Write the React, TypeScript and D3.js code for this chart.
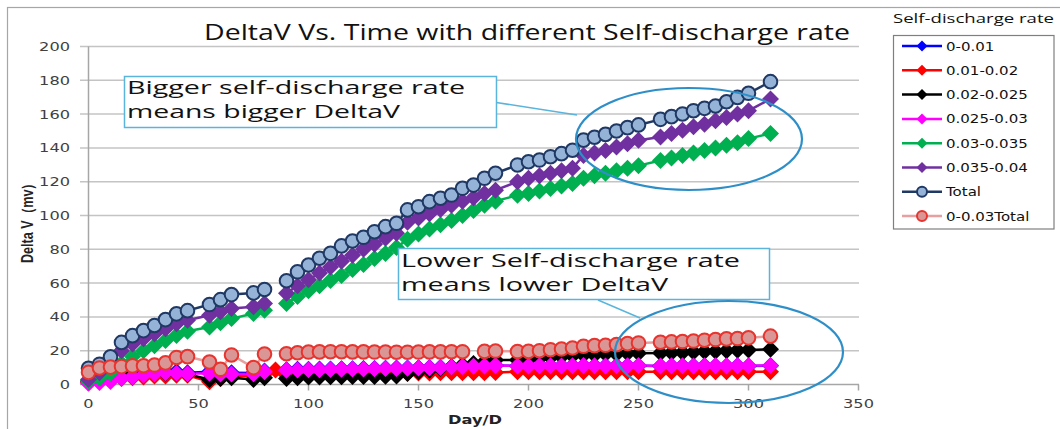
import React from 'react';
import * as d3 from 'd3';

// ---- Data ----
const days = [0, 5, 10, 15, 20, 25, 30, 35, 40, 45, 55, 60, 65, 75, 80, 85, 90, 95, 100, 105, 110, 115, 120, 125, 130, 135, 140, 145, 150, 155, 160, 165, 170, 175, 180, 185, 195, 200, 205, 210, 215, 220, 225, 230, 235, 240, 245, 250, 260, 265, 270, 275, 280, 285, 290, 295, 300, 310];

const rate0_001 = [1.5, 2, 2.5, 4.5, 5.5, 6.2, 7.2, 7.8, 7.5, 7, 7.5, 7.2, 7, 6.8, 8, null, 8.8, 9, 9, 9.1, 9.2, 9.3, 9.3, 9.4, 9.5, 9.6, 9.7, 9.8, 9.9, 10, 10.2, 10.4, 10.6, 10.8, 11, 11.2, 11, 11, 11, 11.1, 11, 11.1, 11.1, 11.1, 11, 11.1, 11.1, 11.1, 11, 11, 11.1, 11, 11.1, 11, 11, 11.1, 11, 11.1];
const rate001_002 = [1, 2, 3, 3.5, 4, 4.5, 5, 5, 5.5, 5.5, 1.7, 3.5, 5, 5, 6, 8.6, 5.5, 5.5, 5.8, 6, 6, 6.1, 6.2, 6.3, 6.4, 6.5, 6.6, 6.7, 6.8, 6.8, 6.9, 6.9, 7, 7, 7, 7.1, 7.6, 7.5, 7.6, 7.6, 7.5, 7.6, 7.6, 7.6, 7.5, 7.6, 7.6, 7.6, 7.5, 7.6, 7.6, 7.6, 7.5, 7.6, 7.6, 7.6, 7.5, 7.6];
const rate002_0025 = [2, 4, 5.5, 6, 6.5, 6.5, 6.8, 6.8, 6.5, 6, 3, 3.5, 4, 3, 4, null, 3.5, 4, 4.5, 4.5, 4.6, 4.6, 4.7, 4.7, 4.8, 4.9, 5, 6.5, 7.6, 8.5, 9.5, 10.5, 11.5, 12.5, 13.5, 14.5, 14.5, 15, 15.5, 16, 16.5, 17, 17.5, 17.5, 18, 18, 18.5, 18.5, 18.6, 18.8, 19, 19.2, 19.5, 19.7, 20, 20.2, 20.4, 20.8];
const rate0025_003 = [0.7, 1.2, 1.8, 3.7, 4.6, 5.6, 6.4, 7, 6.6, 6.4, 6.6, 6.2, 6.2, 6.4, 7.6, null, 8.4, 8.6, 8.7, 8.8, 8.9, 9, 9.1, 9.2, 9.3, 9.4, 9.5, 9.6, 9.7, 9.9, 10.1, 10.3, 10.6, 10.8, 11, 11.2, 11, 11, 11.1, 11.1, 11, 11.1, 11.2, 11.1, 11, 11.1, 11.1, 11.2, 11, 11.1, 11.1, 11, 11.1, 11.1, 11, 11.1, 11.1, 11.2];
const rate003_0035 = [2, 4, 7, 12.5, 16.5, 20, 23, 26, 29, 31.5, 34, 36.5, 39, 42, 44, null, 48, 52, 55.5, 58.5, 61.5, 64.5, 68, 71, 74.5, 77.5, 81, 86, 89, 92, 94.5, 97, 100, 103, 106, 108.5, 112, 113, 114.5, 116, 117.5, 119, 122, 123.5, 125, 126.5, 128, 129.5, 132.5, 134, 135.5, 137, 138.5, 140, 141.5, 143, 145.5, 148.5];
const rate0035_004 = [3, 7, 13, 20, 24, 27, 30, 33, 36, 38, 41, 43, 45, 46, 48, null, 54, 58.5, 62, 66, 69.5, 73, 76.5, 80, 83, 86.5, 89.5, 96, 98.5, 101, 103.5, 106, 108.5, 110.5, 113, 115, 120, 122, 123.5, 125, 126.5, 128, 135.5, 137, 138.5, 140.5, 142.5, 144.5, 146.5, 148.5, 150.5, 152.5, 154, 156, 158, 160, 162, 169];
const totalAll = [9.6, 12, 16.4, 24.9, 28.9, 31.9, 34.9, 38.4, 41.8, 43.7, 47.3, 50.2, 53.2, 54.2, 56.2, null, 61.4, 66.7, 70.7, 74.7, 77.6, 82, 84.9, 87.1, 90.4, 93.4, 95.4, 103.3, 105.2, 108.2, 110.2, 112.1, 116.1, 118, 122, 125, 129.9, 131.8, 132.8, 134.8, 136.6, 138.6, 144.6, 146.3, 148, 150, 152, 153.6, 156.9, 158.5, 160.1, 162, 163.4, 164.8, 167.3, 169.9, 172.3, 179.2];
const total0_003 = [7.2, 9.8, 10.3, 10.6, 11, 11.1, 11.5, 12.8, 16, 16.5, 13.3, 9, 17.5, 10, 18, null, 18.2, 18.8, 19.2, 19.3, 19.4, 19.4, 19.3, 19.3, 19.2, 19.2, 19.1, 19.1, 19.2, 19.3, 19.3, 19.4, 19.4, null, 19.6, 19.8, 19.5, 19.6, 20, 20.6, 21, 21.6, 22.6, 23, 23.2, 23.6, 24.2, 24.6, 25, 25.2, 25.4, 25.7, 26.2, 26.6, 27, 27.2, 27.6, 28.6];

const seriesNames = ['0-0.01', '0.01-0.02', '0.02-0.025', '0.025-0.03', '0.03-0.035', '0.035-0.04', 'Total', '0-0.03Total'];
const xTicks = [0, 50, 100, 150, 200, 250, 300, 350];
const yTicks = [0, 20, 40, 60, 80, 100, 120, 140, 160, 180, 200];

const title = 'DeltaV Vs. Time with different Self-discharge rate';
const xTitle = 'Day/D';
const yTitle = 'Delta V（mv）';
const legendTitle = 'Self-discharge rate';
const noteUpper = ['Bigger self-discharge rate', 'means bigger DeltaV'];
const noteLower = ['Lower Self-discharge rate', 'means lower DeltaV'];

type Series = {
  name: string;
  values: (number | null)[];
  marker: 'diamond' | 'circle';
  fill: string;
  stroke: string;
  line: string;
};

const series: Series[] = [
  { name: seriesNames[0], values: rate0_001, marker: 'diamond', fill: '#0000FF', stroke: 'none', line: '#0000FF' },
  { name: seriesNames[1], values: rate001_002, marker: 'diamond', fill: '#FF0000', stroke: 'none', line: '#FF0000' },
  { name: seriesNames[2], values: rate002_0025, marker: 'diamond', fill: '#000000', stroke: 'none', line: '#000000' },
  { name: seriesNames[3], values: rate0025_003, marker: 'diamond', fill: '#FF00FF', stroke: 'none', line: '#FF00FF' },
  { name: seriesNames[4], values: rate003_0035, marker: 'diamond', fill: '#00B050', stroke: 'none', line: '#00B050' },
  { name: seriesNames[5], values: rate0035_004, marker: 'diamond', fill: '#7030A0', stroke: 'none', line: '#7030A0' },
  { name: seriesNames[6], values: totalAll, marker: 'circle', fill: '#95B3D7', stroke: '#1F3864', line: '#1F3864' },
  { name: seriesNames[7], values: total0_003, marker: 'circle', fill: '#D99694', stroke: '#E8332E', line: '#E6A0A0' },
];

const W = 1060;
const H = 429;

function Marker({ s, cx, cy, size }: { s: Series; cx: number; cy: number; size: number }) {
  if (s.marker === 'diamond') {
    return (
      <path
        d={`M${cx},${cy - size}L${cx + size},${cy}L${cx},${cy + size}L${cx - size},${cy}Z`}
        fill={s.fill}
      />
    );
  }
  return <circle cx={cx} cy={cy} r={size} fill={s.fill} stroke={s.stroke} strokeWidth={2} />;
}

export default function App() {
  const x = d3.scaleLinear().domain([0, 350]).range([88.5, 858.5]);
  const y = d3.scaleLinear().domain([0, 200]).range([384.5, 46.5]);

  const gridColor = '#C4C4C4';
  const axisColor = '#A6A6A6';
  const noteColor = '#5BB4DC';
  const ellipseColor = '#2E8FC8';
  const tickFont = 'DejaVu Sans, sans-serif';

  const lineGen = d3
    .line<[number, number | null]>()
    .defined((d) => d[1] !== null)
    .x((d) => x(d[0]))
    .y((d) => y(d[1] as number));

  const legendY0 = 46;
  const legendStep = 24.3;

  return (
    <svg width={W} height={H} style={{ display: 'block', position: 'absolute', left: 0, top: 0 }} fontFamily="DejaVu Sans, sans-serif">
      <rect x={0} y={0} width={W} height={H} fill="#ffffff" />
      {/* outer frame */}
      <rect x={7.5} y={7.5} width={W + 20} height={H + 20} fill="none" stroke="#A6A6A6" strokeWidth={1.2} />

      {/* title */}
      <text x={204} y={40} fontSize={21} fontFamily="Open Sans, sans-serif" fill="#111" textLength={646} lengthAdjust="spacingAndGlyphs">
        {title}
      </text>

      {/* gridlines */}
      {yTicks.map((t) => (
        <line key={'g' + t} x1={80} x2={859} y1={y(t)} y2={y(t)} stroke={t === 0 ? axisColor : gridColor} strokeWidth={1.5} />
      ))}
      {/* y axis */}
      <line x1={88.5} x2={88.5} y1={y(200)} y2={y(0)} stroke={axisColor} strokeWidth={1.5} />
      {/* x ticks */}
      {xTicks.map((t) => (
        <line key={'xt' + t} x1={x(t)} x2={x(t)} y1={y(0)} y2={y(0) + 6} stroke={axisColor} strokeWidth={1.5} />
      ))}
      {/* y tick labels */}
      {yTicks.map((t) => (
        <text key={'yl' + t} transform={`translate(70,${y(t) + 4.5}) scale(1.35,1)`} textAnchor="end" fontSize={12} fill="#404040" fontFamily={tickFont}>
          {t}
        </text>
      ))}
      {/* x tick labels */}
      {xTicks.map((t) => (
        <text key={'xl' + t} transform={`translate(${x(t)},${408}) scale(1.35,1)`} textAnchor="middle" fontSize={12} fill="#404040" fontFamily={tickFont}>
          {t}
        </text>
      ))}
      {/* axis titles */}
      <text x={475} y={424} textAnchor="middle" fontSize={13} fontWeight="bold" fill="#222" textLength={54} lengthAdjust="spacingAndGlyphs">
        {xTitle}
      </text>
      <text transform="translate(33,220) rotate(-90)" textAnchor="middle" fontSize={16} fontWeight="bold" fill="#222" fontFamily="Liberation Sans, sans-serif" textLength={86} lengthAdjust="spacingAndGlyphs">
        {yTitle}
      </text>

      {/* series lines */}
      {series.map((s) => (
        <path
          key={'l' + s.name}
          d={lineGen(days.map((d, i) => [d, s.values[i]] as [number, number | null])) || ''}
          fill="none"
          stroke={s.line}
          strokeWidth={2.5}
        />
      ))}
      {/* series markers */}
      {series.map((s) => (
        <g key={'m' + s.name}>
          {days.map((d, i) =>
            s.values[i] === null ? null : (
              <Marker key={i} s={s} cx={x(d)} cy={y(s.values[i] as number)} size={s.marker === 'diamond' ? 8.5 : 6.8} />
            )
          )}
        </g>
      ))}

      {/* annotation: upper */}
      <line x1={493} y1={102} x2={577} y2={115} stroke={noteColor} strokeWidth={1.5} />
      <rect x={124.5} y={76.5} width={372} height={51} fill="#ffffff" stroke={noteColor} strokeWidth={1.5} />
      <text x={127} y={94} fontSize={18} fontFamily="Open Sans, sans-serif" fill="#111" textLength={338} lengthAdjust="spacingAndGlyphs">
        {noteUpper[0]}
      </text>
      <text x={127} y={118} fontSize={18} fontFamily="Open Sans, sans-serif" fill="#111" textLength={273} lengthAdjust="spacingAndGlyphs">
        {noteUpper[1]}
      </text>
      <ellipse cx={689} cy={139} rx={113} ry={51} fill="none" stroke={ellipseColor} strokeWidth={2.2} />

      {/* annotation: lower */}
      <line x1={598} y1={300} x2={640} y2={318} stroke={noteColor} strokeWidth={1.5} />
      <rect x={398.5} y={248.5} width={371} height={51} fill="#ffffff" stroke={noteColor} strokeWidth={1.5} />
      <text x={401} y={267} fontSize={18} fontFamily="Open Sans, sans-serif" fill="#111" textLength={339} lengthAdjust="spacingAndGlyphs">
        {noteLower[0]}
      </text>
      <text x={401} y={291} fontSize={18} fontFamily="Open Sans, sans-serif" fill="#111" textLength={267} lengthAdjust="spacingAndGlyphs">
        {noteLower[1]}
      </text>
      <ellipse cx={729} cy={352} rx={114} ry={51} fill="none" stroke={ellipseColor} strokeWidth={2.2} />

      {/* legend */}
      <text x={893} y={23} fontSize={13} fill="#111" fontFamily="Open Sans, sans-serif" textLength={161} lengthAdjust="spacingAndGlyphs">
        {legendTitle}
      </text>
      <rect x={893.5} y={35.5} width={160.5} height={193.5} fill="#ffffff" stroke="#7F7F7F" strokeWidth={1.2} />
      {series.map((s, i) => {
        const ly = legendY0 + i * legendStep;
        return (
          <g key={'lg' + s.name}>
            <line x1={902} x2={942} y1={ly} y2={ly} stroke={s.line} strokeWidth={2.5} />
            <Marker s={s} cx={922} cy={ly} size={s.marker === 'diamond' ? 5.5 : 5} />
            <text transform={`translate(946,${ly + 4.5}) scale(1.25,1)`} fontSize={12} fontWeight="500" fill="#111" fontFamily={tickFont}>
              {s.name}
            </text>
          </g>
        );
      })}
    </svg>
  );
}
